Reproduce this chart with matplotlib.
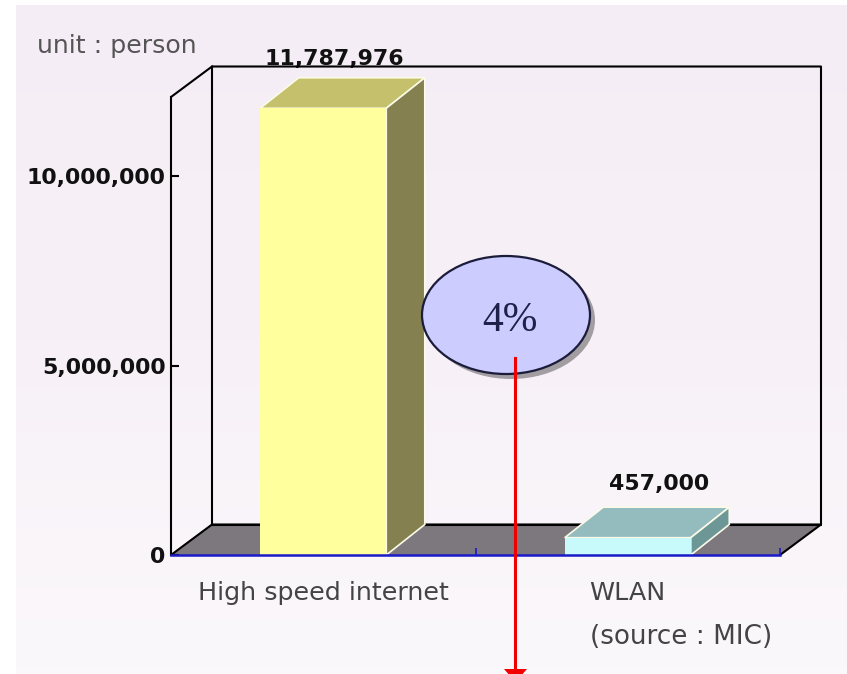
import numpy as np
import matplotlib
matplotlib.use('Agg')
import matplotlib.pyplot as plt
from matplotlib.patches import Ellipse, Polygon
from matplotlib.ticker import FuncFormatter

categories = ['High speed internet', 'WLAN']
values = [11787976, 457000]
value_labels = ['11,787,976', '457,000']
yticks = [0, 5000000, 10000000]
unit_note = 'unit : person'
source_note = '(source : MIC)'
callout = '4%'

W, H = 847, 674
bar_styles = [('#ffff9d', '#c4c06c', '#84804f'), ('#c8fafc', '#94bcbf', '#6d9797')]

fig = plt.figure(figsize=(W / 100, H / 100), dpi=100, facecolor='white')

# pixel overlay for the page background and annotations
bg = fig.add_axes([0, 0, 1, 1], zorder=0)
bg.axis('off')
grad = np.linspace(0, 1, 100).reshape(-1, 1)
bg.imshow(grad, extent=[16, W, H, 5], aspect='auto', vmin=0, vmax=1,
          cmap=matplotlib.colors.LinearSegmentedColormap.from_list('page', ['#f5edf5', '#f7f1f7', '#fbf8fb']))
bg.set_xlim(0, W)
bg.set_ylim(H, 0)

# front plane of the pseudo 3d box
ax = fig.add_axes([171 / W, 1 - 555 / H, 609 / W, 458 / H], zorder=1)
ax.set_xlim(0, 2)
ax.set_ylim(0, 12085000)
ax.patch.set_alpha(0)

# depth of the box in data units
dx = 41 / 304.5
dy = 30.5 / 458 * 12085000
bar_dx = 38.5 / 304.5
ymax = ax.get_ylim()[1]

ax.add_patch(Polygon([(0, 0), (dx, dy), (2 + dx, dy), (2, 0)], fc='#7d787d', ec='none', clip_on=False, zorder=1))
box_lines = [([0, dx, 2 + dx, 2 + dx, dx, dx], [ymax, ymax + dy, ymax + dy, dy, dy, ymax + dy]),
             ([2, 2 + dx], [0, dy]), ([0, dx], [0, dy]), ([dx, 2 + dx], [dy, dy])]
for xs, ys in box_lines:
    ax.plot(xs, ys, color='black', lw=1.5, clip_on=False, zorder=1.5, solid_capstyle='round')

bar_width = 0.414
positions = np.arange(len(values)) + 0.5
label_shift = [(-6, 6.5), (9, 9.5)]  # labels don't sit centred in the original
ax.bar(positions, values, bar_width, color=[s[0] for s in bar_styles], zorder=3, edgecolor='none')
for x, v, (front, top, side), label, shift in zip(positions, values, bar_styles, value_labels, label_shift):
    x0, x1 = x - bar_width / 2, x + bar_width / 2
    ax.add_patch(Polygon([(x0, v), (x0 + bar_dx, v + dy), (x1 + bar_dx, v + dy), (x1, v)], fc=top, ec='#fbfbe8', lw=1.2, clip_on=False, zorder=2.5))
    ax.add_patch(Polygon([(x1, 0), (x1 + bar_dx, dy), (x1 + bar_dx, v + dy), (x1, v)], fc=side, ec='#fbfbe8', lw=1.2, clip_on=False, zorder=2.6))
    ax.annotate(label, (x + bar_dx / 2, v + dy), xytext=shift, textcoords='offset points', ha='center', va='bottom',
                fontsize=15.8, fontweight='bold', color='#111111', zorder=1, annotation_clip=False)

for s in ['top', 'right']:
    ax.spines[s].set_visible(False)
ax.spines['left'].set_linewidth(1.5)
ax.spines['bottom'].set_color('#1a1ac8')
ax.spines['bottom'].set_linewidth(1.8)
ax.spines['bottom'].set_zorder(4)

ax.set_yticks(yticks)
ax.yaxis.set_major_formatter(FuncFormatter(lambda v, p: f'{int(v):,}'))
ax.tick_params(axis='y', direction='in', length=6, width=1.5, pad=4, labelsize=15.9)
for t in ax.get_yticklabels():
    t.set_fontweight('bold')
    t.set_color('#111111')
ax.set_xticks(positions)
ax.set_xticklabels(categories, fontsize=18.3, color='#444444')
ax.tick_params(axis='x', length=0, pad=19)
ax.set_xticks([0, 1, 2], minor=True)
ax.tick_params(axis='x', which='minor', direction='in', length=5, width=1.2, color='#1a1ac8')

# annotations on top
fg = fig.add_axes([0, 0, 1, 1], zorder=2)
fg.set_xlim(0, W)
fg.set_ylim(H, 0)
fg.axis('off')
fg.text(37, 46, unit_note, fontsize=18.2, color='#555555', va='center')
fg.text(590, 637, source_note, fontsize=18.9, color='#444444', va='center')
fg.add_patch(Ellipse((511, 320), 168, 118, fc='#8c888c', ec='none', alpha=0.8))
fg.add_patch(Ellipse((506, 315), 168, 118, fc='#ccccff', ec='#1b1b3a', lw=1.6))
fg.text(510, 321, callout, fontsize=30, family='Liberation Serif', color='#20204a', ha='center', va='center')
fg.plot([515, 515], [358, 670], color='#f00000', lw=2.2)
fg.add_patch(Polygon([(504, 669), (527, 669), (515.5, 682)], fc='#f00000', ec='none'))

fig.savefig('out.png', dpi=100, facecolor=fig.get_facecolor())
